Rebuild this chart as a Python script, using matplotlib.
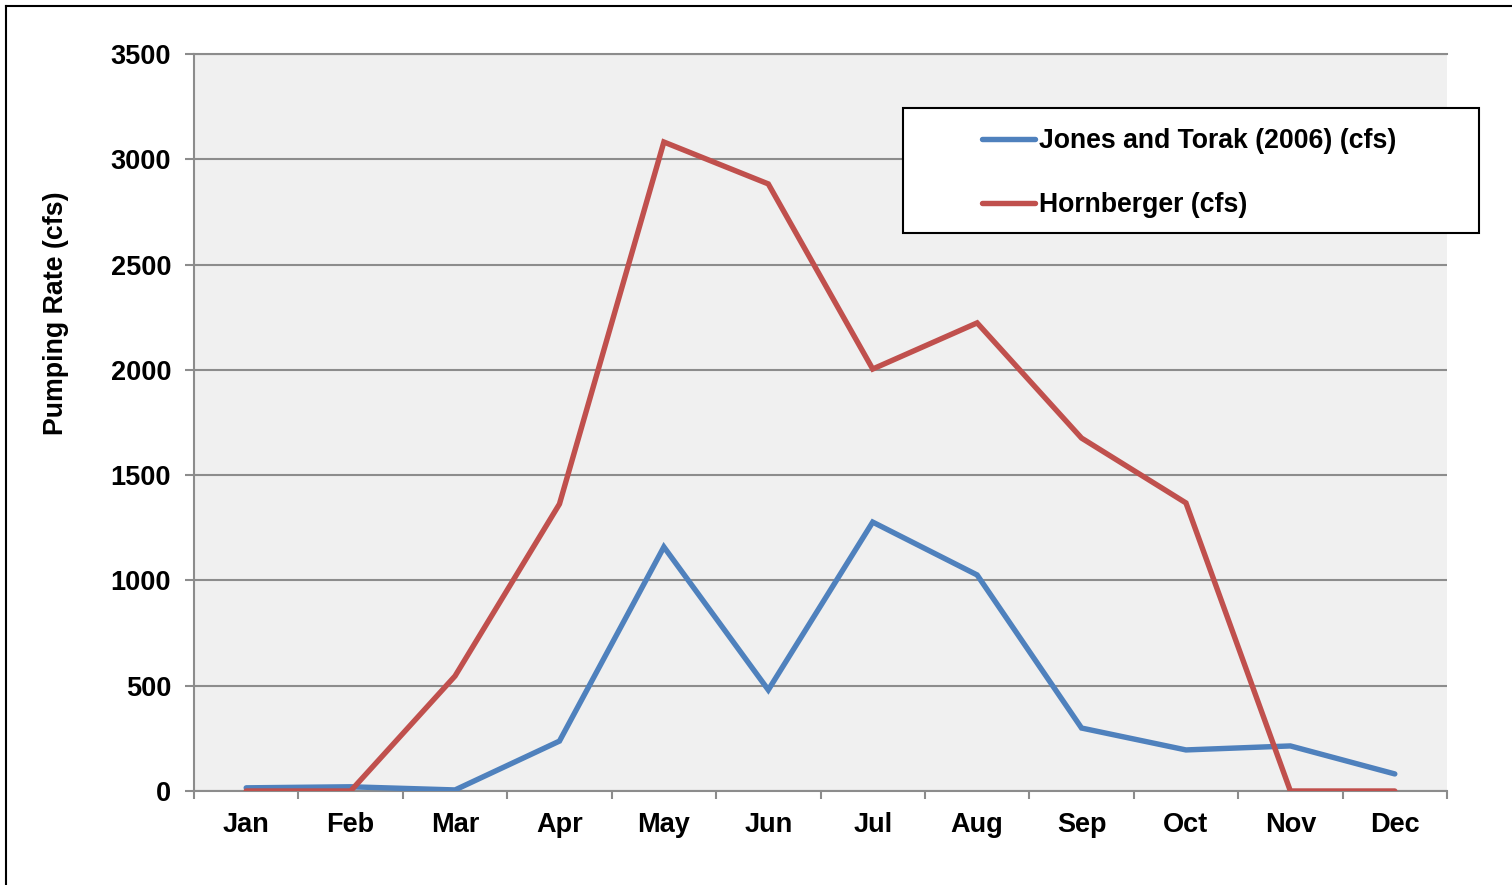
import matplotlib
matplotlib.use('Agg')
import matplotlib.pyplot as plt
from matplotlib.lines import Line2D
from matplotlib.patches import Rectangle

months = ['Jan', 'Feb', 'Mar', 'Apr', 'May', 'Jun', 'Jul', 'Aug', 'Sep', 'Oct', 'Nov', 'Dec']
jones_torak = [15, 20, 5, 237, 1159, 480, 1277, 1026, 299, 195, 214, 81]
hornberger = [0, 0, 546, 1363, 3082, 2883, 2004, 2223, 1676, 1368, 0, 0]
yticks = [0, 500, 1000, 1500, 2000, 2500, 3000, 3500]

W, H = 1512, 885
plt.rcParams['font.family'] = ['Liberation Sans', 'DejaVu Sans']
plt.rcParams['font.weight'] = 'bold'

fig = plt.figure(figsize=(W / 100, H / 100), dpi=100)
ax = fig.add_axes([194 / W, 1 - 791 / H, (1447 - 194) / W, (791 - 54) / H])
ax.set_facecolor('#f0f0f0')

grid_col = '#8c8c8c'
x = list(range(len(months)))
ax.plot(x, jones_torak, color='#4f81bd', lw=3.9, solid_capstyle='round', solid_joinstyle='miter',
        label='Jones and Torak (2006) (cfs)', zorder=3)
ax.plot(x, hornberger, color='#c0504d', lw=3.9, solid_capstyle='round', solid_joinstyle='miter',
        label='Hornberger (cfs)', zorder=3)

ax.set_xlim(-0.5, len(months) - 0.5)
ax.set_ylim(0, 3500)
ax.set_yticks(yticks)
ax.set_yticklabels([str(v) for v in yticks], fontsize=19.5, fontweight='bold')
ax.set_xticks(x)
ax.set_xticklabels(months, fontsize=19.5, fontweight='bold')
ax.set_xticks([i - 0.5 for i in range(len(months) + 1)], minor=True)
ax.tick_params(axis='x', which='major', length=0, pad=15)
ax.tick_params(axis='x', which='minor', length=6, width=1.5, color=grid_col, direction='out')
ax.tick_params(axis='y', which='major', length=6.5, width=1.5, color=grid_col, pad=10)

ax.grid(axis='y', color=grid_col, lw=1.5)
ax.set_axisbelow(True)
ax.spines['right'].set_visible(False)
for s in ['left', 'bottom', 'top']:
    ax.spines[s].set_color(grid_col)
    ax.spines[s].set_linewidth(1.5)

ax.set_ylabel('Pumping Rate (cfs)', fontsize=19.3, fontweight='bold')
ax.yaxis.set_label_coords((69 - 194) / (1447 - 194), (791 - 313) / (791 - 54))

# legend frame and entries
fig.add_artist(Rectangle((903 / W, 1 - 233 / H), (1479 - 903) / W, (233 - 108) / H,
                         transform=fig.transFigure, facecolor='white', edgecolor='black',
                         lw=1.5, zorder=5))
leg = fig.legend(loc='upper left', bbox_to_anchor=(982 / W, 1 - 128 / H), frameon=False,
                 borderpad=0, borderaxespad=0, handlelength=2.0, handletextpad=0.15,
                 labelspacing=1.42, prop={'size': 19.2, 'weight': 'bold'})
leg.set_zorder(6)

# outer border (left and top)
fig.add_artist(Line2D([6 / W, 6 / W], [0, 1 - 6 / H], transform=fig.transFigure, color='black', lw=1.5))
fig.add_artist(Line2D([6 / W, 1], [1 - 6 / H, 1 - 6 / H], transform=fig.transFigure, color='black', lw=1.5))

fig.savefig('out.png', dpi=100)
